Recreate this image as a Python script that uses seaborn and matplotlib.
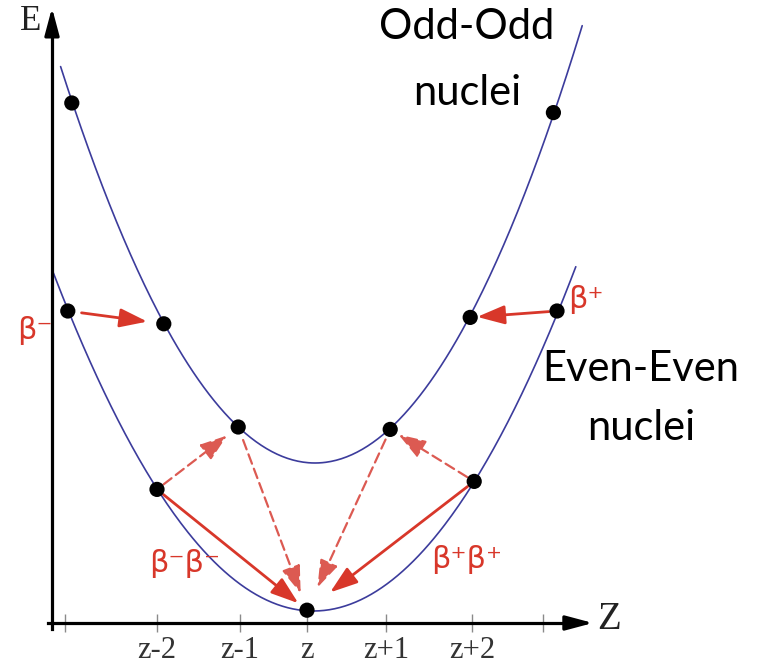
import numpy as np
import pandas as pd
import matplotlib
matplotlib.use("Agg")
import matplotlib.pyplot as plt
import seaborn as sns

# Mass parabolas for an isobar chain: (vertex Z, vertex energy, curvature)
odd_vertex = [0.10, 2.00, 0.49]
even_vertex = [0.08, 0.15, 0.40]
odd_span = [-3.08, 3.44]
even_span = [-3.17, 3.36]

# Nuclides sitting on each parabola (Z offset, energy)
odd_z = [-2.94, -1.79, -0.86, 1.04, 2.04, 3.08]
odd_e = [6.50, 3.74, 2.45, 2.42, 3.82, 6.38]
even_z = [-2.99, -1.875, 0.0, 2.09, 3.125]
even_e = [3.90, 1.67, 0.16, 1.77, 3.90]

# Z axis ticks
tick_z = [-3.025, -1.875, -0.84, 0.0, 0.99, 2.06, 2.95]
tick_labels = ["", "z-2", "z-1", "z", "z+1", "z+2", ""]

# Decays: (from family, index) -> (to family, index), with end shrink in points
single_beta = [(("even", 0), ("odd", 1), 10, 12),
               (("even", 4), ("odd", 4), 6, 5)]
double_beta = [(("even", 1), ("even", 2), 6, 8),
               (("even", 3), ("even", 2), 6, 21)]
virtual_steps = [(("even", 1), ("odd", 2), 6, 10),
                 (("even", 3), ("odd", 3), 6, 7),
                 (("odd", 2), ("even", 2), 10, 13),
                 (("odd", 3), ("even", 2), 8, 18)]

curve_blue = "#3c3c9c"
decay_red = "#d8372a"
dash_red = "#dc5a52"

sns.set_theme(style="white")
plt.rcParams["font.family"] = ["DejaVu Sans"]

fig = plt.figure(figsize=(7.61, 6.65), dpi=100)
ax = fig.add_axes([0, 0, 1, 1])


def parabola(z, vertex):
    z0, e0, k = vertex
    return e0 + k * (np.asarray(z) - z0) ** 2


z_o = np.linspace(odd_span[0], odd_span[1], 300)
z_e = np.linspace(even_span[0], even_span[1], 300)
curves = pd.concat([
    pd.DataFrame({"Z": z_o, "E": parabola(z_o, odd_vertex), "family": "odd"}),
    pd.DataFrame({"Z": z_e, "E": parabola(z_e, even_vertex), "family": "even"}),
])
sns.lineplot(data=curves, x="Z", y="E", units="family", estimator=None,
             color=curve_blue, lw=1.2, ax=ax, sort=False)

nuclides = pd.concat([
    pd.DataFrame({"Z": odd_z, "E": odd_e, "family": "odd"}),
    pd.DataFrame({"Z": even_z, "E": even_e, "family": "even"}),
])
sns.scatterplot(data=nuclides, x="Z", y="E", color="black", s=120,
                edgecolor="none", ax=ax, zorder=5, legend=False)

points = {"odd": list(zip(odd_z, odd_e)), "even": list(zip(even_z, even_e))}


def draw_decay(src, dst, sa, sb, color, ls, lw):
    ax.annotate("", xy=points[dst[0]][dst[1]], xytext=points[src[0]][src[1]],
                arrowprops=dict(arrowstyle="-|>,head_length=0.7,head_width=0.24",
                                color=color, lw=lw, linestyle=ls,
                                mutation_scale=24, shrinkA=sa, shrinkB=sb),
                zorder=4)


for src, dst, sa, sb in single_beta + double_beta:
    draw_decay(src, dst, sa, sb, decay_red, "-", 2.0)
for src, dst, sa, sb in virtual_steps:
    draw_decay(src, dst, sa, sb, dash_red, (0, (4.5, 2.4)), 1.6)

# Axes: spines with arrow heads
ax.set_xlim(-3.8375, 5.675)
ax.set_ylim(-0.525, 7.7875)
ax.spines[["top", "right"]].set_visible(False)
ax.spines["left"].set_position(("data", -3.1875))
ax.spines["left"].set_bounds(-0.08, 7.45)
ax.spines["bottom"].set_position(("data", 0))
ax.spines["bottom"].set_bounds(-3.24, 3.35)
for s in ("left", "bottom"):
    ax.spines[s].set_linewidth(2.3)
    ax.spines[s].set_color("black")
head = dict(arrowstyle="-|>,head_length=0.75,head_width=0.2", color="black",
            lw=2.3, mutation_scale=22, shrinkA=0, shrinkB=0)
ax.annotate("", xy=(3.575, 0), xytext=(3.3, 0), arrowprops=head)
ax.annotate("", xy=(-3.1875, 7.69), xytext=(-3.1875, 7.4), arrowprops=head)

ax.set_yticks([])
ax.set_xticks(tick_z, tick_labels)
ax.tick_params(axis="x", direction="inout", length=13, width=1.0,
               color="#8a8a8a", pad=3, labelsize=22, labelcolor="#333333",
               bottom=True)
for lab in ax.get_xticklabels():
    lab.set_family("Liberation Serif")
ax.set_xlabel("")
ax.set_ylabel("")

serif = dict(family="Liberation Serif", color="#222222")
ax.text(-3.45, 7.52, "E", fontsize=25, ha="center", va="center", **serif)
ax.text(3.775, 0.04, "Z", fontsize=28, ha="center", va="center", **serif)

label = dict(family=["Lato", "DejaVu Sans"], color="black", ha="center",
             va="baseline", fontsize=30)
ax.text(2.0, 7.30, "Odd-Odd", **label)
ax.text(2.0, 6.47, "nuclei", **label)
ax.text(4.175, 3.025, "Even-Even", **label)
ax.text(4.175, 2.29, "nuclei", **label)

beta = dict(family="DejaVu Sans", color=decay_red, ha="center", va="center",
            fontsize=22)
ax.text(-3.40, 3.66, "β⁻", **beta)
ax.text(3.48, 4.04, "β⁺", **beta)
ax.text(-1.525, 0.75, "β⁻β⁻", **beta)
ax.text(2.0, 0.79, "β⁺β⁺", **beta)

fig.savefig("out.png", dpi=100)
